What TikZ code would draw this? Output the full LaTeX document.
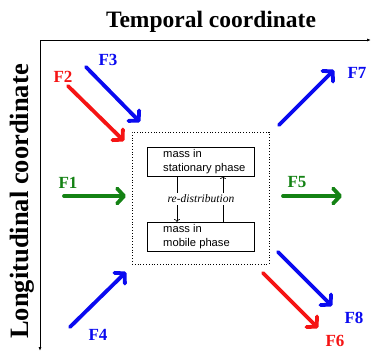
\documentclass[tikz,border=0pt]{standalone}
\usepackage{fontspec}
\setmainfont{Liberation Serif}
\newfontfamily\arialf{Liberation Sans}
\usetikzlibrary{arrows.meta}
\definecolor{fblue}{RGB}{10,10,240}
\definecolor{fred}{RGB}{245,20,20}
\definecolor{fgreen}{RGB}{20,130,20}
\begin{document}
\begin{tikzpicture}[x=1pt,y=-1pt,
  flow/.style={line width=3.8pt, line cap=round, -{Straight Barb[length=7pt,width=15pt,line cap=round,line join=round]}},
  flab/.style={font=\fontsize{17}{17}\selectfont\bfseries, inner sep=0pt},
  axis/.style={line width=0.8pt, -{Latex[length=4pt,width=3pt]}},
  phase/.style={draw, line width=0.8pt, minimum width=107pt, minimum height=29pt, inner sep=0pt},
  phtext/.style={font=\arialf\fontsize{11.2}{14}\selectfont, align=left, anchor=west, inner sep=0pt},
  redis/.style={line width=0.6pt, -{To[length=3pt,width=6pt]}}
]
\useasboundingbox (0,0) rectangle (371,351);
% axes
\coordinate (origin) at (40,40);
\coordinate (tend) at (371,40);
\coordinate (lend) at (40,351);
\draw[axis] (origin) -- (tend);
\draw[axis] (origin) -- (lend);
\node[font=\fontsize{23.5}{23.5}\selectfont\bfseries, inner sep=0pt] (ttitle) at (211,22) {Temporal coordinate};
\node[font=\fontsize{26.5}{26.5}\selectfont\bfseries, inner sep=0pt, rotate=90] (ltitle) at (22,201.5) {Longitudinal coordinate};
% dotted frame
\node[draw, dotted, line width=0.8pt, minimum width=137pt, minimum height=132pt, inner sep=0pt] (frame) at (200.5,198) {};
% phase boxes
\node[phase] (stat) at (200.5,161.5) {};
\node[phase] (mob) at (200.5,236.5) {};
\node[phtext] (stattxt) at (163,161.5) {mass in\\stationary phase};
\node[phtext] (mobtxt) at (163,236.5) {mass in\\mobile phase};
\coordinate (sL) at (177,176);
\coordinate (mL) at (177,222);
\coordinate (sR) at (223,176);
\coordinate (mR) at (223,222);
\draw[redis] (sL) -- (mL);
\draw[redis] (mR) -- (sR);
\node[fill=white, inner sep=1.5pt, font=\fontsize{11.5}{11.5}\selectfont\itshape] (redist) at (201,199) {re-distribution};
% flows
\coordinate (f3a) at (86,67);   \coordinate (f3b) at (140,122);
\coordinate (f2a) at (68,86);   \coordinate (f2b) at (124,141);
\coordinate (f1a) at (64,196);  \coordinate (f1b) at (126,196);
\coordinate (f5a) at (283,196); \coordinate (f5b) at (342,196);
\coordinate (f7a) at (279,125); \coordinate (f7b) at (334,70);
\coordinate (f4a) at (70,327);  \coordinate (f4b) at (126,272);
\coordinate (f8a) at (278,252); \coordinate (f8b) at (332,306);
\coordinate (f6a) at (263,273); \coordinate (f6b) at (318,328);
\draw[flow, fblue] (f3a) -- (f3b);
\draw[flow, fred] (f2a) -- (f2b);
\draw[flow, fgreen] (f1a) -- (f1b);
\draw[flow, fgreen] (f5a) -- (f5b);
\draw[flow, fblue] (f7a) -- (f7b);
\draw[flow, fblue] (f4a) -- (f4b);
\draw[flow, fblue] (f8a) -- (f8b);
\draw[flow, fred] (f6a) -- (f6b);
% labels
\node[flab, fblue] (F3) at (108,60) {F3};
\node[flab, fred] (F2) at (63,77) {F2};
\node[flab, fgreen] (F1) at (68,183) {F1};
\node[flab, fgreen] (F5) at (297,182) {F5};
\node[flab, fblue] (F7) at (357,73) {F7};
\node[flab, fblue] (F4) at (98,335) {F4};
\node[flab, fblue] (F8) at (354,318) {F8};
\node[flab, fred] (F6) at (335,341) {F6};
\end{tikzpicture}
\end{document}
